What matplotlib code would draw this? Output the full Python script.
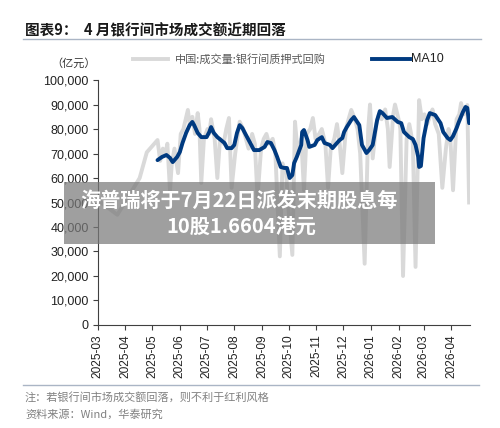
import matplotlib
matplotlib.use('Agg')
import numpy as np
import pandas as pd
import matplotlib.pyplot as plt
import matplotlib.dates as mdates
from matplotlib.patches import Rectangle

plt.rcParams['font.family'] = ['Liberation Sans', 'Noto Sans CJK SC', 'DejaVu Sans']

# daily repo volume (100m yuan, shown in thousands)
vol_dates = ['2025-03-01', '2025-03-23', '2025-04-17', '2025-04-25', '2025-05-07', '2025-05-10',
             '2025-05-13', '2025-05-16', '2025-05-18', '2025-05-21', '2025-05-23', '2025-05-26',
             '2025-05-30', '2025-06-02', '2025-06-05', '2025-06-10', '2025-06-12', '2025-06-15',
             '2025-06-18', '2025-06-21', '2025-06-23', '2025-06-25', '2025-06-28', '2025-07-02',
             '2025-07-04', '2025-07-06', '2025-07-08', '2025-07-10', '2025-07-13', '2025-07-16',
             '2025-07-20', '2025-07-23', '2025-07-26', '2025-07-29', '2025-08-02', '2025-08-05',
             '2025-08-07', '2025-08-11', '2025-08-14', '2025-08-17', '2025-08-21', '2025-08-24',
             '2025-08-27', '2025-08-31', '2025-09-03', '2025-09-06', '2025-09-09', '2025-09-13',
             '2025-09-16', '2025-09-21', '2025-09-24', '2025-09-28', '2025-10-01', '2025-10-05',
             '2025-10-08', '2025-10-11', '2025-10-15', '2025-10-18', '2025-10-21', '2025-10-25',
             '2025-10-28', '2025-10-31', '2025-11-04', '2025-11-07', '2025-11-11', '2025-11-14',
             '2025-11-17', '2025-11-21', '2025-11-24', '2025-11-27', '2025-11-30', '2025-12-04',
             '2025-12-07', '2025-12-10', '2025-12-14', '2025-12-17', '2025-12-20', '2025-12-25',
             '2025-12-29', '2025-12-31', '2026-01-03', '2026-01-07', '2026-01-10', '2026-01-13',
             '2026-01-17', '2026-01-20', '2026-01-22', '2026-01-26', '2026-01-28', '2026-02-01',
             '2026-02-03', '2026-02-06', '2026-02-10', '2026-02-13', '2026-02-17', '2026-02-20',
             '2026-02-24', '2026-02-27', '2026-03-02', '2026-03-05', '2026-03-09', '2026-03-11',
             '2026-03-14', '2026-03-18', '2026-03-22', '2026-03-26', '2026-03-29', '2026-03-31',
             '2026-04-03', '2026-04-07', '2026-04-10', '2026-04-12', '2026-04-15', '2026-04-19',
             '2026-04-21']
vol_values = [51.0, 45.0, 60.0, 70.5, 75.5, 67.0,
              72.0, 70.0, 74.0, 55.0, 66.0, 72.0,
              62.0, 78.0, 80.0, 87.8, 82.0, 85.0,
              78.0, 86.5, 80.0, 58.0, 76.0, 80.0,
              78.0, 84.0, 80.0, 76.0, 60.0, 76.0,
              74.0, 80.0, 84.5, 56.0, 70.0, 78.0,
              83.0, 80.0, 76.0, 72.0, 78.0, 74.0,
              52.0, 72.0, 76.0, 78.0, 74.0, 76.0,
              70.0, 28.0, 66.0, 62.0, 46.0, 28.6,
              83.0, 70.0, 76.0, 55.0, 78.0, 80.0,
              84.5, 76.0, 78.0, 80.0, 74.0, 56.0,
              72.0, 76.0, 82.0, 74.0, 62.0, 80.0,
              84.0, 87.8, 84.0, 80.0, 70.0, 25.0,
              80.0, 90.0, 68.0, 82.0, 86.0, 84.0,
              88.0, 80.0, 64.5, 86.0, 90.0, 84.0,
              80.0, 20.0, 76.0, 82.0, 74.0, 23.7,
              91.8, 84.0, 86.0, 82.0, 86.0, 88.0,
              82.0, 78.0, 56.0, 72.0, 80.0, 76.0,
              55.0, 84.0, 86.0, 90.6, 86.0, 89.8,
              50.0]

ma_dates = ['2025-05-07', '2025-05-12', '2025-05-17', '2025-05-21', '2025-05-24', '2025-05-29',
            '2025-06-01', '2025-06-04', '2025-06-08', '2025-06-12', '2025-06-15', '2025-06-17',
            '2025-06-21', '2025-06-25', '2025-07-01', '2025-07-04', '2025-07-06', '2025-07-09',
            '2025-07-13', '2025-07-17', '2025-07-21', '2025-07-24', '2025-07-29', '2025-08-01',
            '2025-08-04', '2025-08-07', '2025-08-10', '2025-08-14', '2025-08-20', '2025-08-23',
            '2025-08-29', '2025-09-04', '2025-09-07', '2025-09-11', '2025-09-15', '2025-09-18',
            '2025-09-22', '2025-09-26', '2025-09-29', '2025-10-02', '2025-10-05', '2025-10-07',
            '2025-10-10', '2025-10-15', '2025-10-16', '2025-10-18', '2025-10-22', '2025-10-24',
            '2025-10-30', '2025-11-02', '2025-11-07', '2025-11-10', '2025-11-16', '2025-11-19',
            '2025-11-24', '2025-11-27', '2025-11-30', '2025-12-02', '2025-12-05', '2025-12-10',
            '2025-12-13', '2025-12-19', '2025-12-22', '2025-12-27', '2025-12-30', '2026-01-03',
            '2026-01-08', '2026-01-11', '2026-01-14', '2026-01-19', '2026-01-25', '2026-01-31',
            '2026-02-04', '2026-02-07', '2026-02-13', '2026-02-17', '2026-02-20', '2026-02-23',
            '2026-02-24', '2026-02-26', '2026-03-01', '2026-03-05', '2026-03-08', '2026-03-14',
            '2026-03-20', '2026-03-23', '2026-03-28', '2026-03-31', '2026-04-03', '2026-04-07',
            '2026-04-09', '2026-04-14', '2026-04-17', '2026-04-19', '2026-04-21']
ma_values = [67.3, 68.6, 69.4, 68.2, 66.5, 68.6,
             70.6, 74.3, 78.4, 81.6, 82.9, 81.6,
             78.4, 76.7, 76.7, 78.8, 80.8, 78.4,
             76.7, 75.5, 74.3, 72.2, 72.2, 73.5,
             78.4, 81.6, 80.4, 77.6, 73.5, 71.4,
             71.4, 72.7, 74.7, 74.3, 71.4, 68.6,
             64.5, 64.1, 64.1, 60.0, 61.2, 66.1,
             68.6, 73.5, 78.8, 79.6, 75.5, 72.7,
             73.5, 75.5, 76.7, 74.3, 73.5, 72.2,
             74.3, 75.5, 76.3, 78.8, 80.8, 83.7,
             84.9, 81.6, 73.5, 70.2, 71.4, 73.5,
             83.7, 87.3, 86.5, 84.5, 84.9, 82.9,
             82.4, 78.8, 76.7, 75.9, 73.5, 68.6,
             64.5, 64.9, 76.3, 83.7, 86.5, 85.7,
             82.4, 78.8, 76.3, 75.5, 77.1, 80.4,
             82.4, 86.9, 89.0, 88.6, 82.4]

x_ticks = pd.date_range('2025-03-01', '2026-04-01', freq='MS')
y_ticks = np.arange(0, 100001, 10000)

fig = plt.figure(figsize=(5, 4.28), dpi=100)
ax = fig.add_axes([0.1954, 0.2407, 0.7446, 0.5723])

ax.plot(pd.to_datetime(vol_dates), np.array(vol_values) * 1000, color='#d9d9d9', lw=2.8,
        solid_joinstyle='round', zorder=2)
ax.plot(pd.to_datetime(ma_dates), np.array(ma_values) * 1000, color='#003a80', lw=2.8,
        solid_joinstyle='round', solid_capstyle='round', zorder=3)

ax.set_xlim(pd.Timestamp('2025-03-01'), pd.Timestamp('2026-04-22'))
ax.set_ylim(0, 100000)
ax.set_yticks(y_ticks)
ax.set_yticklabels([f'{v:,}' for v in y_ticks], fontsize=9, color='#222222')
ax.set_xticks(x_ticks)
ax.xaxis.set_major_formatter(mdates.DateFormatter('%Y-%m'))
for lab in ax.get_xticklabels():
    lab.set_rotation(90)
    lab.set_fontsize(8.6)
    lab.set_color('#222222')
ax.tick_params(axis='both', direction='out', length=3.5, width=0.8, color='#404040', pad=3)
for s in ['top', 'right']:
    ax.spines[s].set_visible(False)
for s in ['left', 'bottom']:
    ax.spines[s].set_color('#404040')
    ax.spines[s].set_linewidth(0.8)

# title and rules
fig.text(0.05, 0.929, '图表9：  4 月银行间市场成交额近期回落', fontsize=10.5, fontweight='bold',
         family=['Noto Sans CJK SC'], color='#1a1a1a', va='center')
fig.add_artist(plt.Line2D([0.046, 0.962], [0.909, 0.909], color='#aab5c5', lw=1))
fig.add_artist(plt.Line2D([0.046, 0.958], [0.101, 0.101], color='#aab5c5', lw=1))

# legend
fig.add_artist(plt.Line2D([0.266, 0.336], [0.862, 0.862], color='#d9d9d9', lw=2.8))
fig.text(0.349, 0.862, '中国:成交量:银行间质押式回购', fontsize=8, color='#595959',
         family=['Noto Sans CJK SC'], va='center')
fig.add_artist(plt.Line2D([0.744, 0.82], [0.862, 0.862], color='#003a80', lw=2.8))
fig.text(0.823, 0.862, 'MA10', fontsize=9, color='#222222', va='center')
fig.text(0.148, 0.852, '（亿元）', fontsize=8, color='#333333', family=['Noto Sans CJK SC'],
         ha='center', va='center')

# footer
fig.text(0.05, 0.071, '注：若银行间市场成交额回落，则不利于红利风格', fontsize=8,
         color='#808080', family=['Noto Sans CJK SC'], va='center')
fig.text(0.05, 0.031, '资料来源：Wind，华泰研究', fontsize=8,
         color='#808080', family=['Noto Sans CJK SC', 'Liberation Sans'], va='center')

# overlay banner
fig.add_artist(Rectangle((0.128, 0.430), 0.742, 0.145, transform=fig.transFigure,
                         facecolor='#7a7a7a', alpha=0.72, edgecolor='none', zorder=10))
fig.text(0.478, 0.533, '海普瑞将于7月22日派发末期股息每', fontsize=14.5, fontweight='bold',
         color='white', family=['Noto Sans CJK SC'], ha='center', va='center', zorder=11)
fig.text(0.482, 0.471, '10股1.6604港元', fontsize=14.5, fontweight='bold',
         color='white', family=['Noto Sans CJK SC'], ha='center', va='center', zorder=11)

fig.savefig('out.png', dpi=100)
